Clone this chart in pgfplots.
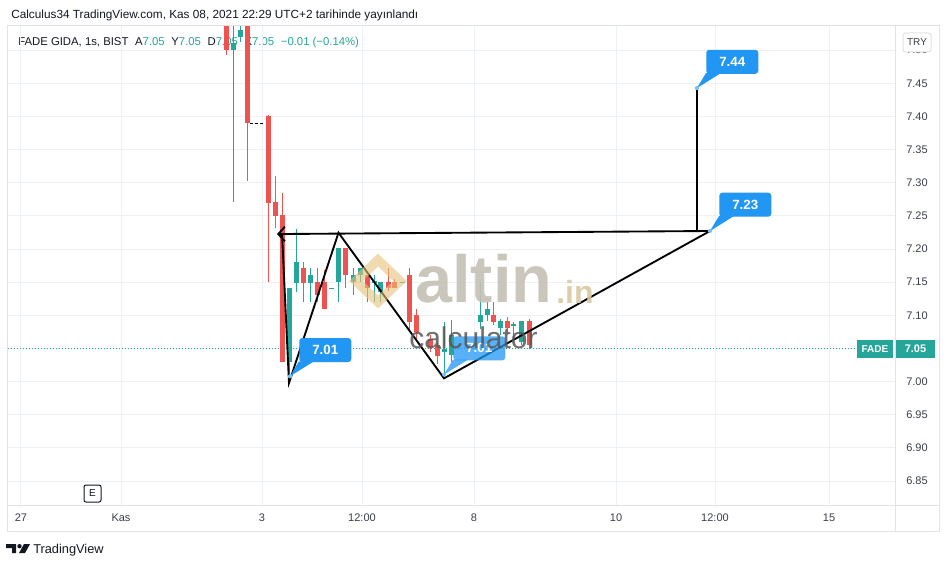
\documentclass[border=0pt]{standalone}
\usepackage{fontspec}
\setmainfont{Liberation Sans}
\usepackage{pgfplots}
\usepackage{pgfplotstable}
\pgfplotsset{compat=1.18}
\usetikzlibrary{arrows.meta}

\definecolor{tvred}{HTML}{EF5350}
\definecolor{tvgreen}{HTML}{26A69A}
\definecolor{tvblue}{HTML}{2196F3}
\definecolor{tvgrid}{HTML}{EDF0F5}
\definecolor{tvborder}{HTML}{E0E3EB}
\definecolor{tvtext}{HTML}{131722}
\definecolor{tvaxis}{HTML}{3A3E4A}
\definecolor{wmgray}{HTML}{C6C0B4}
\definecolor{wmtan}{HTML}{D9C8A2}
\definecolor{wmgold}{HTML}{E6C27A}
\definecolor{wmdark}{HTML}{565656}

\pgfplotstableread{
x o h l c
226 7.545 7.550 7.493 7.500
247.5 7.545 7.550 7.302 7.390
268.5 7.401 7.402 7.151 7.270
275.5 7.271 7.310 7.232 7.250
282.5 7.251 7.284 7.030 7.030
303 7.171 7.181 7.120 7.149
317.5 7.151 7.171 7.120 7.131
324 7.151 7.168 7.110 7.110
345.5 7.201 7.201 7.141 7.161
367.5 7.161 7.161 7.120 7.141
388 7.151 7.171 7.136 7.141
394.5 7.151 7.155 7.141 7.141
409.5 7.161 7.171 7.080 7.090
416.5 7.100 7.110 7.065 7.075
430.5 7.065 7.070 7.045 7.052
437.5 7.055 7.060 7.027 7.038
493.5 7.100 7.120 7.085 7.090
507.5 7.092 7.098 7.070 7.081
529 7.092 7.095 7.050 7.055
}\redtab

\pgfplotstableread{
x o h l c
233 7.500 7.550 7.271 7.511
240.5 7.520 7.536 7.513 7.530
289.5 7.030 7.141 6.998 7.141
296.5 7.149 7.230 7.136 7.181
310 7.149 7.171 7.120 7.161
331 7.141 7.141 7.141 7.141
338.5 7.151 7.201 7.120 7.201
353 7.151 7.171 7.131 7.161
360 7.161 7.171 7.150 7.171
374 7.150 7.161 7.120 7.152
380 7.136 7.151 7.120 7.151
402 7.150 7.150 7.150 7.150
444 7.045 7.090 7.008 7.050
451 7.040 7.093 7.030 7.070
480 7.090 7.151 7.080 7.100
487 7.100 7.120 7.092 7.110
500 7.081 7.095 7.070 7.092
513 7.085 7.090 7.060 7.086
521.5 7.060 7.092 7.055 7.092
}\greentab

\tikzset{pix/.style={x=0.75pt, y=-0.75pt, xshift=-6pt, yshift=378.75pt}}

\newcommand{\callout}[4]{%
  \fill[tvblue, opacity=#4] (axis cs:#1,#2) -- ++(6.75pt,11.25pt) -- ++(11.25pt,0pt) -- cycle;
  \node[fill=tvblue, fill opacity=#4, text opacity=1, rounded corners=2.25pt, minimum width=39pt, minimum height=18pt, inner sep=0pt, text=white, font=\bfseries\fontsize{10}{12}\selectfont, anchor=south west] at ([shift={(6.75pt,10.5pt)}]axis cs:#1,#2) {#3};
  \fill[tvblue!60!white, opacity=#4] (axis cs:#1,#2) circle (1.6pt);
}

\begin{document}
\begin{tikzpicture}
\begin{scope}[pix]
  \path[use as bounding box, fill=white] (0,0) rectangle (949,568);
  \node[anchor=base west, inner sep=0pt, font=\fontsize{8.85}{10}\selectfont, text=tvtext] at (11,19) {Calculus34 TradingView.com, Kas 08, 2021 22:29 UTC+2 tarihinde yayınlandı};
  \node[anchor=base west, inner sep=0pt, font=\fontsize{8.5}{10}\selectfont, text=tvtext] at (18,46) {FADE GIDA, 1s, BIST\hspace{5pt}A\textcolor{tvgreen}{7.05}\hspace{5pt}Y\textcolor{tvgreen}{7.05}\hspace{5pt}D\textcolor{tvgreen}{7.05}\hspace{5pt}K\textcolor{tvgreen}{7.05}\hspace{5pt}\textcolor{tvgreen}{−0.01 (−0.14\%)}};
\end{scope}

\begin{axis}[
  at={(0,0)}, anchor=south west, scale only axis,
  width=665.25pt, height=359.25pt,
  xmin=8, xmax=895, ymin=6.8138, ymax=7.5365,
  axis line style={draw=none},
  xtick={21,121,262,362,474,616,715,829},
  xticklabels={27,Kas,3,12:00,8,10,12:00,15},
  ytick={6.85,6.90,6.95,7.00,7.05,7.10,7.15,7.20,7.25,7.30,7.35,7.40,7.45,7.50},
  yticklabel pos=right,
  major tick length=0pt,
  grid=major,
  major grid style={draw=tvgrid, line width=0.75pt},
  tick label style={font=\fontsize{8.25}{10}\selectfont, text=tvaxis},
  xticklabel style={anchor=center, yshift=-9.75pt},
  yticklabel style={anchor=center, xshift=16.5pt, /pgf/number format/.cd, fixed, fixed zerofill, precision=2},
  /pgf/number format/assume math mode=true,
  clip=true,
]
% last price line
\addplot[tvgreen, line width=0.75pt, dash pattern=on 0.75pt off 1.5pt] coordinates {(8,7.05) (857,7.05)};
% wicks
\addplot[draw=none, error bars/.cd, y dir=both, y explicit, error mark=none,
  error bar style={draw=tvred, line width=0.75pt}]
  table[x=x, y expr={(\thisrow{h}+\thisrow{l})/2}, y error expr={(\thisrow{h}-\thisrow{l})/2}] {\redtab};
\addplot[draw=none, error bars/.cd, y dir=both, y explicit, error mark=none,
  error bar style={draw=tvgreen, line width=0.75pt}]
  table[x=x, y expr={(\thisrow{h}+\thisrow{l})/2}, y error expr={(\thisrow{h}-\thisrow{l})/2}] {\greentab};
% bodies
\addplot[draw=none, error bars/.cd, y dir=both, y explicit, error mark=none,
  error bar style={draw=tvred, line width=3.75pt}]
  table[x=x, y expr={(\thisrow{o}+\thisrow{c})/2}, y error expr={max(abs(\thisrow{o}-\thisrow{c})/2,0.00075)}] {\redtab};
\addplot[draw=none, error bars/.cd, y dir=both, y explicit, error mark=none,
  error bar style={draw=tvgreen, line width=3.75pt}]
  table[x=x, y expr={(\thisrow{o}+\thisrow{c})/2}, y error expr={max(abs(\thisrow{o}-\thisrow{c})/2,0.00075)}] {\greentab};
% small dashed marker
\addplot[black, line width=0.6pt, dash pattern=on 2.25pt off 1.5pt] coordinates {(250,7.39) (263,7.39)};
% pattern drawing
\addplot[black, line width=1.4pt, arrows={Straight Barb[length=5pt,width=11pt]-}] coordinates {(277,7.2226) (710,7.2272)};
\addplot[black, line width=1.4pt] coordinates {(282,7.2241) (289,6.998) (338.5,7.2246) (444,7.0049) (710,7.2272)};
\addplot[black, line width=1.4pt] coordinates {(697,7.2272) (697,7.4429)};
% callouts
\callout{290}{7.008}{7.01}{1}
\callout{444}{7.0105}{7.01}{0.75}
\callout{697}{7.4429}{7.44}{1}
\callout{710}{7.2272}{7.23}{1}
\end{axis}

\begin{scope}[pix]
  % watermark
  \draw[wmgold, line width=7pt, opacity=0.6, line join=miter] (378,260) -- (400,281) -- (378,302) -- (356,281) -- cycle;
  \node[anchor=base west, inner sep=0pt, font=\bfseries\fontsize{50}{52}\selectfont, text=wmgray, opacity=0.9] at (415,302) {altin};
  \node[anchor=base west, inner sep=0pt, font=\bfseries\fontsize{24}{26}\selectfont, text=wmtan, opacity=0.9] at (556,303) {.in};
  \node[anchor=base west, inner sep=0pt, font=\fontsize{22.5}{24}\selectfont, text=wmdark, opacity=0.85] at (409,348) {calculator};
  % borders
  \draw[tvborder, line width=0.75pt] (7,26) rectangle (939,531);
  \draw[tvborder, line width=0.75pt] (895,26) -- (895,531);
  \draw[tvborder, line width=0.75pt] (7,505) -- (939,505);
  % TRY box
  \draw[draw=tvborder!80!black!40, fill=white, rounded corners=2pt, line width=0.75pt] (903,33) rectangle (931,52);
  \node[font=\fontsize{7.5}{9}\selectfont, text=tvaxis] at (917,42.5) {TRY};
  % price labels
  \fill[tvgreen] (857,340) rectangle (893,358);
  \node[font=\bfseries\fontsize{7.5}{9}\selectfont, text=white] at (875,349) {FADE};
  \fill[tvgreen] (896,340) rectangle (935,358);
  \node[font=\bfseries\fontsize{8.25}{10}\selectfont, text=white] at (915.5,349) {7.05};
  % E box
  \draw[tvtext, line width=0.75pt, rounded corners=1.5pt, fill=white] (84,485) rectangle (101,502);
  \node[font=\fontsize{7.5}{9}\selectfont, text=tvtext] at (92.5,493.5) {E};
  % TradingView logo
  \fill[tvtext] (6,544) -- (16,544) -- (16,553) -- (12,553) -- (12,548) -- (6,548) -- cycle;
  \fill[tvtext] (19.5,546.2) circle (2.2);
  \fill[tvtext] (24,544) -- (30,544) -- (25,553) -- (19,553) -- cycle;
  \node[anchor=base west, inner sep=0pt, font=\fontsize{9.6}{11}\selectfont, text=tvtext] at (33,553) {TradingView};
\end{scope}
\end{tikzpicture}
\end{document}
